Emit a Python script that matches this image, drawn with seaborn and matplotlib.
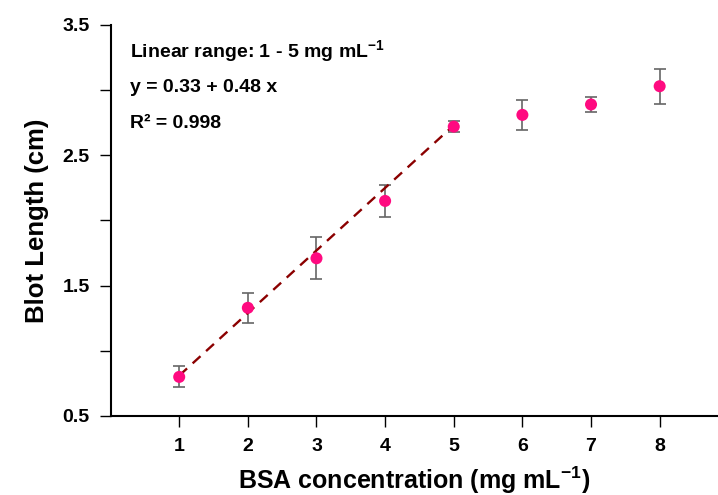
import matplotlib
matplotlib.use("Agg")
import matplotlib.pyplot as plt
import seaborn as sns
import pandas as pd

# ---- data ----
conc = [1, 2, 3, 4, 5, 6, 7, 8]
blot_length = [0.80, 1.33, 1.71, 2.15, 2.72, 2.81, 2.89, 3.03]
blot_err = [0.08, 0.115, 0.16, 0.125, 0.042, 0.118, 0.055, 0.135]
fit_x = [1, 5]
fit_y = [0.81, 2.73]
x_ticks = [1, 2, 3, 4, 5, 6, 7, 8]
y_major = [0.5, 1.5, 2.5, 3.5]
y_minor = [1.0, 2.0, 3.0]
annot_lines = [r"Linear range: 1 - 5 mg mL$^{-1}$",
               "y = 0.33 + 0.48 x",
               "R² = 0.998"]

sns.set_style("ticks", {"axes.edgecolor": "black", "xtick.color": "black",
                        "ytick.color": "black", "text.color": "black",
                        "axes.labelcolor": "black"})
plt.rcParams["font.family"] = ["Liberation Sans", "DejaVu Sans"]
plt.rcParams["font.weight"] = "bold"
plt.rcParams["mathtext.fontset"] = "custom"
plt.rcParams["mathtext.rm"] = "Liberation Sans:bold"
plt.rcParams["mathtext.bf"] = "Liberation Sans:bold"
plt.rcParams["mathtext.default"] = "bf"

df = pd.DataFrame({"conc": conc, "length": blot_length, "err": blot_err})
fit_df = pd.DataFrame({"x": fit_x, "y": fit_y})

fig = plt.figure(figsize=(7.18, 4.95), dpi=100)
ax = fig.add_axes([0.154, 0.1596, 0.846, 0.79])

ax.errorbar(df["conc"], df["length"], yerr=df["err"], fmt="none",
            ecolor="#666666", elinewidth=1.2, capsize=4, capthick=1.2, zorder=2)
sns.lineplot(data=fit_df, x="x", y="y", ax=ax, color="#8B0000",
             linewidth=1.7, zorder=3)
ax.lines[-1].set_dashes([4.5, 3.2])
sns.scatterplot(data=df, x="conc", y="length", ax=ax, color="#FF0A80",
                s=75, edgecolor="none", zorder=4)

ax.set_xlim(0, 8.85)
ax.set_ylim(0.5, 3.5)
ax.set_xticks(x_ticks)
ax.set_xticklabels([str(t) for t in x_ticks])
ax.set_yticks(y_major)
ax.set_yticklabels([f"{v:.1f}" for v in y_major])
ax.set_yticks(y_minor, minor=True)

ax.tick_params(axis="both", which="both", direction="out", length=8,
               width=1.0, labelsize=14, pad=7, colors="black")
ax.tick_params(axis="x", pad=8)
for side in ["top", "right"]:
    ax.spines[side].set_visible(False)
for side in ["left", "bottom"]:
    ax.spines[side].set_linewidth(1.5)
    ax.spines[side].set_color("black")

ax.set_xlabel(r"BSA concentration (mg mL$^{-1}$)", fontsize=18,
              fontweight="bold", labelpad=7, color="black")
ax.set_ylabel("Blot Length (cm)", fontsize=18.5, fontweight="bold",
              labelpad=10, color="black")

for txt, yy in zip(annot_lines, [0.932, 0.84, 0.748]):
    ax.text(0.032, yy, txt, transform=ax.transAxes, fontsize=14,
            fontweight="bold", va="center", ha="left", color="black")

fig.savefig("out.png", dpi=100)
